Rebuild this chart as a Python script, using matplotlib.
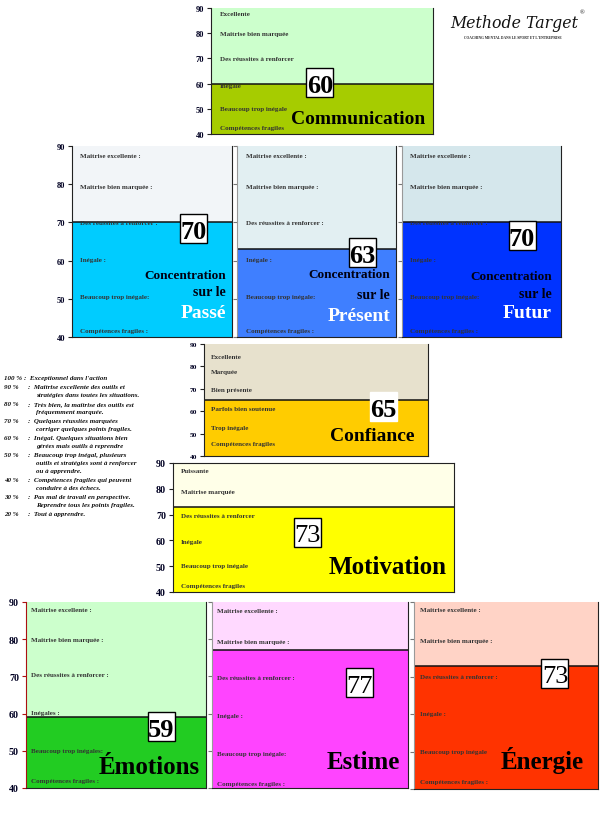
import matplotlib
matplotlib.use("Agg")
import matplotlib.pyplot as plt
from matplotlib.patches import Rectangle

plt.rcParams['font.family'] = ['Liberation Serif', 'DejaVu Serif']

W, H = 600, 829

# ---------------- data ----------------
panel_names = ["Communication", "Passé", "Présent", "Futur", "Confiance",
               "Motivation", "Émotions", "Estime", "Énergie"]
panel_scores = [60, 70, 63, 70, 65, 73, 59, 77, 73]

y_ticks = [40, 50, 60, 70, 80, 90]

communication_labels = ["Excellente", "Maitrise bien marquée", "Des réussites à renforcer",
                        "Inégale", "Beaucoup trop inégale", "Compétences fragiles"]
communication_levels = [88.0, 79.7, 69.8, 59.4, 50.0, 42.7]

concentration_labels = ["Maitrise excellente :", "Maitrise bien marquée :",
                        "Des réussites à renforcer :", "Inégale :",
                        "Beaucoup trop inégale:", "Compétences fragiles :"]
concentration_levels = [87.6, 79.5, 70.1, 60.2, 50.5, 41.8]

confiance_labels = ["Excellente", "Marquée", "Bien présente", "Parfois bien soutenue",
                    "Trop inégale", "Compétences fragiles"]
confiance_levels = [84.6, 77.5, 69.5, 61.4, 52.5, 45.8]

motivation_labels = ["Puissante", "Maitrise marquée", "Des réussites à renforcer",
                     "Inégale", "Beaucoup trop inégale", "Compétences fragiles"]
motivation_levels = [86.9, 78.8, 69.5, 59.4, 50.1, 42.7]

emotions_labels = ["Maitrise excellente :", "Maitrise bien marquée :",
                   "Des réussites à renforcer :", "Inégales :",
                   "Beaucoup trop inégales:", "Compétences fragiles :"]
emotions_levels = [88.1, 79.8, 70.4, 60.4, 50.2, 41.9]

estime_labels = ["Maitrise excellente :", "Maitrise bien marquée :",
                 "Des réussites à renforcer :", "Inégale :",
                 "Beaucoup trop inégale:", "Compétences fragiles :"]
estime_levels = [87.6, 79.5, 69.8, 59.6, 49.4, 41.3]

energie_labels = ["Maitrise excellente :", "Maitrise bien marquée :",
                  "Des réussites à renforcer :", "Inégale :",
                  "Beaucoup trop inégale", "Compétences fragiles :"]
energie_levels = [87.9, 79.8, 70.2, 60.1, 49.9, 41.9]

scale_percents = ["100 %", "90 %", "80 %", "70 %", "60 %", "50 %", "40 %", "30 %", "20 %"]
scale_descriptions = [
    ["Exceptionnel dans l'action"],
    ["Maîtrise excellente des outils et", "stratégies dans toutes les situations."],
    ["Très bien, la maîtrise des outils est", "fréquemment marquée."],
    ["Quelques réussites marquées", "corriger quelques points fragiles."],
    ["Inégal. Quelques situations bien", "gérées mais outils à reprendre"],
    ["Beaucoup trop inégal, plusieurs", "outils et stratégies sont à renforcer", "ou à apprendre."],
    ["Compétences fragiles qui peuvent", "conduire à des échecs."],
    ["Pas mal de travail en perspective.", "Reprendre tous les points fragiles."],
    ["Tout à apprendre."],
]

# ---------------- layout / style ----------------
# pixel boxes: (left, top, right, bottom)
boxes = {
    "Communication": (211, 9, 433, 135),
    "Passé": (72, 147, 232, 338),
    "Présent": (237, 147, 396, 338),
    "Futur": (402, 147, 561, 338),
    "Confiance": (204, 345, 428, 457),
    "Motivation": (173, 464, 454, 593),
    "Émotions": (26, 603, 206, 789),
    "Estime": (212, 603, 408, 789),
    "Énergie": (414, 603, 598, 790),
}
upper_colors = {
    "Communication": "#ccffcc", "Passé": "#f2f5f8", "Présent": "#e2eff2",
    "Futur": "#d5e7ec", "Confiance": "#e7e1cd", "Motivation": "#ffffe8",
    "Émotions": "#ccffcc", "Estime": "#ffd9ff", "Énergie": "#ffd3c6",
}
lower_colors = {
    "Communication": "#a6cc00", "Passé": "#00ccff", "Présent": "#3f7fff",
    "Futur": "#0033ff", "Confiance": "#ffcc00", "Motivation": "#ffff00",
    "Émotions": "#22cc22", "Estime": "#ff44ff", "Énergie": "#ff3300",
}
labels_for = {
    "Communication": (communication_labels, communication_levels, 9),
    "Passé": (concentration_labels, concentration_levels, 8),
    "Présent": (concentration_labels, concentration_levels, 9),
    "Futur": (concentration_labels, concentration_levels, 8),
    "Confiance": (confiance_labels, confiance_levels, 7),
    "Motivation": (motivation_labels, motivation_levels, 8),
    "Émotions": (emotions_labels, emotions_levels, 5),
    "Estime": (estime_labels, estime_levels, 5),
    "Énergie": (energie_labels, energie_levels, 6),
}
# number box centre (axes fraction), bold?, bordered?
score_box = {
    "Communication": (0.49, 0.41, True, True),
    "Passé": (0.76, 0.57, True, True),
    "Présent": (0.79, 0.445, True, True),
    "Futur": (0.755, 0.53, True, True),
    "Confiance": (0.80, 0.446, True, False),
    "Motivation": (0.477, 0.465, False, True),
    "Émotions": (0.75, 0.328, True, True),
    "Estime": (0.755, 0.565, False, True),
    "Énergie": (0.766, 0.62, False, True),
}
# title (x right, y centre, size)
titles = {
    "Communication": (0.964, 0.12, 14),
    "Confiance": (0.94, 0.18, 14),
    "Motivation": (0.975, 0.20, 18),
    "Émotions": (0.967, 0.113, 18),
    "Estime": (0.96, 0.145, 18),
    "Énergie": (0.924, 0.16, 18),
}
concentration_titles = {
    "Passé": (0.9625, 0.325, 0.236, 0.13),
    "Présent": (0.962, 0.33, 0.225, 0.11),
    "Futur": (0.943, 0.32, 0.23, 0.126),
}
tick_label_style = {
    "Communication": 6, "Passé": 6, "Confiance": 5.3, "Motivation": 7.2, "Émotions": 7.2,
}

fig = plt.figure(figsize=(W / 100, H / 100), dpi=100)
fig.patch.set_facecolor("white")

label_color = "#333333"

for name, score in zip(panel_names, panel_scores):
    x0, y0, x1, y1 = boxes[name]
    ax = fig.add_axes([x0 / W, 1 - y1 / H, (x1 - x0) / W, (y1 - y0) / H])
    ax.set_xlim(0, 1)
    ax.set_ylim(40, 90)
    ax.axhspan(40, score, color=lower_colors[name], lw=0, zorder=0)
    ax.axhspan(score, 90, color=upper_colors[name], lw=0, zorder=0)
    ax.axhline(score, color="#111111", lw=1.1, zorder=2)
    ax.set_xticks([])
    ax.set_yticks(y_ticks)
    ax.spines["top"].set_visible(name == "Motivation")
    ax.spines["top"].set_color("#222222")
    ax.spines["right"].set_color("#222222")
    ax.spines["bottom"].set_color("#222222")
    if name in tick_label_style:
        left_col = "#aa1111" if name == "Émotions" else "#222222"
        ax.spines["left"].set_color(left_col)
        ax.tick_params(axis="y", direction="out", length=3, width=0.8, color=left_col,
                       labelsize=tick_label_style[name], labelcolor="#000022", pad=2)
        for t in ax.get_yticklabels():
            t.set_fontweight("bold")
    else:
        ax.spines["left"].set_color("#999999")
        ax.tick_params(axis="y", direction="out", length=3, width=0.8, color="#777777",
                       labelleft=False)

    axw = x1 - x0
    axh = y1 - y0
    labs, levels, xoff = labels_for[name]
    for lab, lev in zip(labs, levels):
        ax.text(xoff / axw, lev, lab, fontsize=5, fontweight="bold", color=label_color,
                ha="left", va="center", zorder=3)

    cx, cy, bold, border = score_box[name]
    bw, bh = 27 / axw, 29 / axh
    ax.add_patch(Rectangle((cx - bw / 2, cy - bh / 2), bw, bh, transform=ax.transAxes,
                           facecolor="white", edgecolor="black" if border else "white",
                           lw=1, zorder=4, clip_on=False))
    ax.text(cx, cy - 0.5 / axh, str(score), transform=ax.transAxes, ha="center",
            va="center_baseline", fontsize=19, fontweight="bold" if bold else "normal",
            color="black", zorder=5)

    if name in titles:
        tx, ty, ts = titles[name]
        ax.text(tx, ty, name, transform=ax.transAxes, ha="right", va="center",
                fontsize=ts, fontweight="bold", color="black", zorder=5)
    else:
        tx, yc, ys, yn = concentration_titles[name]
        ax.text(tx, yc, "Concentration", transform=ax.transAxes, ha="right", va="center",
                fontsize=9.5, fontweight="bold", color="#000011", zorder=5)
        ax.text(tx, ys, "sur le", transform=ax.transAxes, ha="right", va="center",
                fontsize=10, fontweight="bold", color="#000011", zorder=5)
        ax.text(tx, yn, name, transform=ax.transAxes, ha="right", va="center",
                fontsize=14, fontweight="bold", color="white", zorder=5)

# ---------------- left scale legend ----------------
y = 379
step = 8.45
for i, (pct, desc) in enumerate(zip(scale_percents, scale_descriptions)):
    fig.text(4 / W, 1 - y / H, pct, fontsize=5, fontstyle="italic", fontweight="bold",
             ha="left", va="center", color="#111111")
    colon_x = 24 if i == 0 else 28
    fig.text(colon_x / W, 1 - y / H, ":  " + desc[0], fontsize=5, fontstyle="italic",
             fontweight="bold", ha="left", va="center", color="#111111")
    y += step
    for extra in desc[1:]:
        fig.text(36 / W, 1 - y / H, extra, fontsize=5, fontstyle="italic",
                 fontweight="bold", ha="left", va="center", color="#111111")
        y += step

# ---------------- logo ----------------
fig.text(514 / W, 1 - 23 / H, "Methode Target", fontsize=11.3, fontstyle="italic",
         ha="center", va="center", color="#111111", family=["DejaVu Serif"])
fig.text(582 / W, 1 - 13 / H, "®", fontsize=4.5, ha="center", va="center", color="#111111")
fig.text(513 / W, 1 - 38 / H, "COACHING MENTAL DANS LE SPORT ET L'ENTREPRISE", fontsize=2.6,
         fontweight="bold", ha="center", va="center", color="#222222")

fig.savefig("out.png", dpi=100, facecolor="white")
